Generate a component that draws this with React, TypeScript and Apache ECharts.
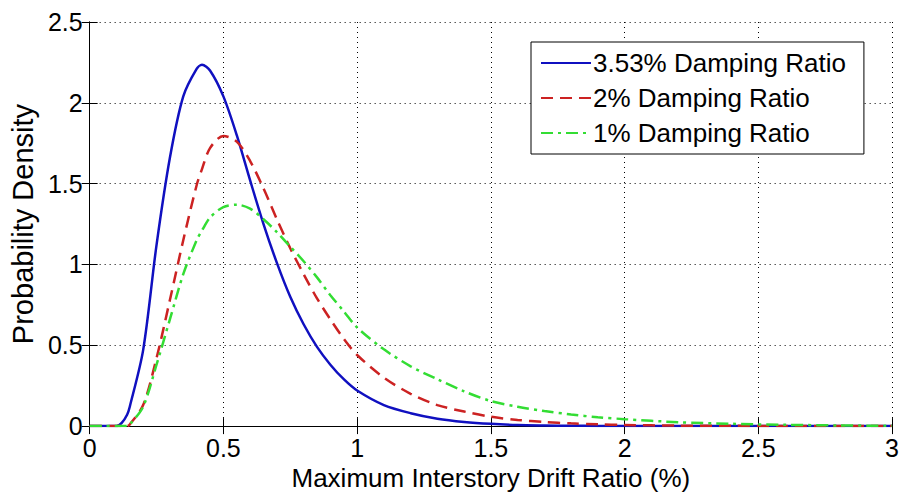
import React, { useEffect, useRef } from "react";
import * as echarts from "echarts";

const xs = [0, 0.05, 0.1, 0.12, 0.14, 0.15, 0.2, 0.25, 0.3, 0.35, 0.4, 0.42, 0.45, 0.5, 0.55, 0.6, 0.65, 0.7, 0.75, 0.8, 0.85, 0.9, 0.95, 1.0, 1.1, 1.2, 1.3, 1.4, 1.5, 1.6, 1.7, 1.8, 1.9, 2.0, 2.2, 2.4, 2.6, 2.8, 3.0];

const damping353 = [0, 0, 0, 0.02, 0.07, 0.12, 0.47, 1.12, 1.66, 2.04, 2.21, 2.235, 2.2, 2.04, 1.8, 1.52, 1.25, 1.01, 0.8, 0.63, 0.49, 0.38, 0.29, 0.22, 0.13, 0.08, 0.046, 0.026, 0.014, 0.007, 0.004, 0.002, 0.001, 0.0005, 0, 0, 0, 0, 0];
const damping2 = [0, 0, 0, 0, 0, 0.01, 0.13, 0.42, 0.78, 1.15, 1.49, 1.59, 1.72, 1.795, 1.76, 1.64, 1.47, 1.28, 1.1, 0.94, 0.79, 0.66, 0.54, 0.44, 0.3, 0.2, 0.13, 0.09, 0.058, 0.038, 0.025, 0.017, 0.011, 0.007, 0.003, 0.0015, 0.001, 0.0005, 0];
const damping1 = [0, 0, 0, 0, 0, 0.01, 0.12, 0.38, 0.66, 0.94, 1.15, 1.21, 1.29, 1.355, 1.37, 1.345, 1.28, 1.2, 1.11, 1.02, 0.92, 0.81, 0.71, 0.61, 0.475, 0.37, 0.29, 0.215, 0.155, 0.12, 0.093, 0.072, 0.055, 0.043, 0.024, 0.014, 0.008, 0.004, 0.002];

const seriesNames = ["3.53% Damping Ratio", "2% Damping Ratio", "1% Damping Ratio"];
const xTicks = { min: 0, max: 3, interval: 0.5 };
const yTicks = { min: 0, max: 2.5, interval: 0.5 };

const FONT = "'Liberation Sans', Arial, Helvetica, sans-serif";

export default function App() {
  const ref = useRef<HTMLDivElement>(null);
  useEffect(() => {
    if (!ref.current) return;
    const chart = echarts.init(ref.current, null, { renderer: "svg" });
    const zip = (ys: number[]) => xs.map((x, i) => [x, ys[i]]);
    const frameAxis = {
      axisLine: { show: true, lineStyle: { color: "#000", width: 1 } },
      axisTick: { show: true, inside: true, length: 8, lineStyle: { color: "#000" } },
    };
    chart.setOption({
      animation: false,
      backgroundColor: "#fff",
      textStyle: { fontFamily: FONT },
      grid: { left: 87, right: 4, top: 22, bottom: 65, show: false },
      legend: {
        data: seriesNames,
        orient: "vertical",
        left: 531,
        top: 42,
        padding: [8, 18, 8, 9],
        itemGap: 9,
        itemWidth: 50,
        itemHeight: 14,
        itemStyle: { opacity: 0 },
        backgroundColor: "#fff",
        borderColor: "#000",
        borderWidth: 1,
        borderRadius: 0,
        textStyle: { fontFamily: FONT, fontSize: 26, color: "#000", padding: [0, 0, 0, -3] },
      },
      xAxis: [
        {
          type: "value",
          ...xTicks,
          position: "bottom",
          ...frameAxis,
          axisLabel: { color: "#000", fontSize: 25, fontFamily: FONT, margin: 9 },
          splitLine: { show: true, lineStyle: { color: "#000", type: [1, 4], width: 1 } },
          name: "Maximum Interstory Drift Ratio (%)",
          nameLocation: "middle",
          nameGap: 37,
          nameTextStyle: { color: "#000", fontSize: 26, fontFamily: FONT },
        },
        {
          type: "value",
          ...xTicks,
          position: "top",
          ...frameAxis,
          axisLabel: { show: false },
          splitLine: { show: false },
        },
      ],
      yAxis: [
        {
          type: "value",
          ...yTicks,
          position: "left",
          ...frameAxis,
          axisLabel: { color: "#000", fontSize: 25, fontFamily: FONT, margin: 7 },
          splitLine: { show: true, lineStyle: { color: "#000", type: [1, 4], width: 1 } },
          name: "Probability Density",
          nameLocation: "middle",
          nameGap: 52,
          nameTextStyle: { color: "#000", fontSize: 29, fontFamily: FONT },
        },
        {
          type: "value",
          ...yTicks,
          position: "right",
          ...frameAxis,
          axisLabel: { show: false },
          splitLine: { show: false },
        },
      ],
      series: [
        {
          name: seriesNames[0],
          type: "line",
          data: zip(damping353),
          symbol: "none",
          smooth: 0.3,
          color: "#1010c0",
          lineStyle: { color: "#1010c0", width: 2.5, type: "solid" },
          z: 3,
        },
        {
          name: seriesNames[1],
          type: "line",
          data: zip(damping2),
          symbol: "none",
          smooth: 0.3,
          color: "#cc2222",
          lineStyle: { color: "#cc2222", width: 2.5, type: [12, 7] },
          z: 4,
        },
        {
          name: seriesNames[2],
          type: "line",
          data: zip(damping1),
          symbol: "none",
          smooth: 0.3,
          color: "#33dd33",
          lineStyle: { color: "#33dd33", width: 2.5, type: [12, 5, 3, 5] },
          z: 5,
        },
      ],
    });
    return () => chart.dispose();
  }, []);
  return <div ref={ref} style={{ width: 902, height: 496, position: "absolute", left: 0, top: 0 }} />;
}
